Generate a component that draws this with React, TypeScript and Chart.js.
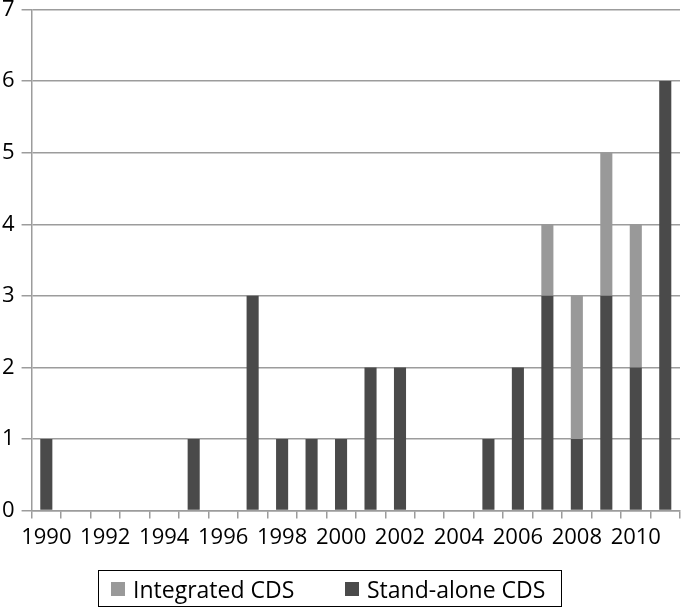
import React, { useEffect, useRef } from "react";
import { Chart, registerables } from "chart.js";

Chart.register(...registerables);

const years = [
  "1990", "1991", "1992", "1993", "1994", "1995", "1996", "1997", "1998", "1999", "2000",
  "2001", "2002", "2003", "2004", "2005", "2006", "2007", "2008", "2009", "2010", "2011",
];
const standAlone = [1, 0, 0, 0, 0, 1, 0, 3, 1, 1, 1, 2, 2, 0, 0, 1, 2, 3, 1, 3, 2, 6];
const integrated = [0, 0, 0, 0, 0, 0, 0, 0, 0, 0, 0, 0, 0, 0, 0, 0, 0, 1, 2, 2, 2, 0];
const seriesNames = ["Integrated CDS", "Stand-alone CDS"];
const yTicks = [0, 1, 2, 3, 4, 5, 6, 7];

const DARK = "#4a4a4a";
const LIGHT = "#999999";
const GRID = "#9c9c9c";
const FONT = "'Open Sans', 'Noto Sans', sans-serif";

export default function App() {
  const ref = useRef<HTMLCanvasElement | null>(null);

  useEffect(() => {
    document.body.style.margin = "0";
    const ctx = ref.current!.getContext("2d")!;
    const chart = new Chart(ctx, {
      type: "bar",
      data: {
        labels: years,
        datasets: [
          {
            label: seriesNames[1],
            data: standAlone,
            backgroundColor: DARK,
            barPercentage: 0.41,
            categoryPercentage: 1,
          },
          {
            label: seriesNames[0],
            data: integrated,
            backgroundColor: LIGHT,
            barPercentage: 0.41,
            categoryPercentage: 1,
          },
        ],
      },
      options: {
        animation: false,
        responsive: false,
        maintainAspectRatio: false,
        layout: { padding: { top: 0, right: 3, bottom: 53, left: -5 } },
        plugins: { legend: { display: false }, tooltip: { enabled: false } },
        scales: {
          x: {
            stacked: true,
            offset: true,
            grid: {
              offset: true,
              drawOnChartArea: false,
              drawTicks: true,
              tickLength: 8,
              color: GRID,
              lineWidth: 1.5,
            },
            border: { color: GRID, width: 1.5 },
            ticks: {
              autoSkip: false,
              maxRotation: 0,
              minRotation: 0,
              padding: 6,
              color: "#000",
              font: { family: FONT, size: 22 },
              callback: (_v: any, i: number) => (i % 2 === 0 ? years[i] : ""),
            },
          },
          y: {
            stacked: true,
            min: 0,
            max: 7,
            afterBuildTicks: (axis: any) => {
              axis.ticks = yTicks.map((v) => ({ value: v }));
            },
            grid: {
              color: GRID,
              lineWidth: 1.5,
              tickLength: 10,
              drawTicks: true,
            },
            border: { color: GRID, width: 1.5 },
            ticks: {
              padding: 7,
              color: "#000",
              font: { family: FONT, size: 22, lineHeight: 0.23 },
            },
          },
        },
      },
    });
    return () => chart.destroy();
  }, []);

  const item = (left: number, color: string, text: string) => (
    <div
      style={{
        position: "absolute",
        left,
        top: 0,
        height: "100%",
        display: "flex",
        alignItems: "center",
      }}
    >
      <span style={{ display: "inline-block", width: 14, height: 14, background: color, marginRight: 8 }} />
      <span>{text}</span>
    </div>
  );

  return (
    <div style={{ position: "relative", width: 683, height: 610 }}>
      <canvas ref={ref} width={683} height={610} style={{ display: "block" }} />
      <div
        style={{
          position: "absolute",
          left: 98,
          top: 570,
          width: 464,
          height: 37,
          border: "1px solid #000",
          boxSizing: "border-box",
          fontFamily: FONT,
          fontSize: 23,
          color: "#000",
          whiteSpace: "nowrap",
        }}
      >
        {item(12, LIGHT, seriesNames[0])}
        {item(246, DARK, seriesNames[1])}
      </div>
    </div>
  );
}
